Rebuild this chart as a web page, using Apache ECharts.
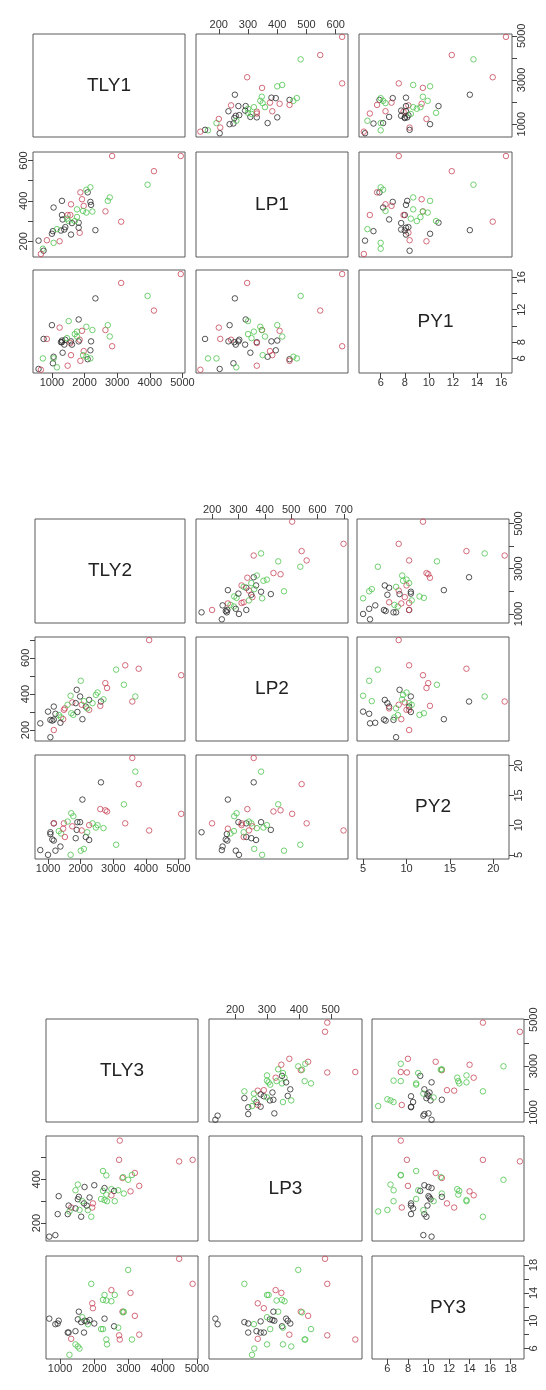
<!DOCTYPE html>
<html lang="en">
<head>
    <meta charset="UTF-8">
    <title>pairs TLY LP PY</title>
    <script src="https://cdn.jsdelivr.net/npm/echarts@6.0.0/dist/echarts.min.js"></script>
</head>
<style>
    *{
        margin: 0;
        padding: 0;
    }
    html , body{
        width: 100%;
        height: 100%;
        overflow: hidden;
        background: #fff;
    }
    .container{
        width: 546px;
        height: 1390px;
    }
</style>
<body>
<div class="container"></div>
<script>
    // variables of each matrix
    let names1=['TLY1','LP1','PY1'];
    let names2=['TLY2','LP2','PY2'];
    let names3=['TLY3','LP3','PY3'];

    // points: [TLY, LP, PY, group]  group 0 black / 1 red / 2 green
    let points1=[
        [4950,622,16.4,1],[2846,622,7.5,1],[4128,547,11.9,1],[3933,480,13.7,2],[3123,297,15.3,1],
        [2641,348,9.5,1],[2713,400,10.1,2],[2774,417,8.7,2],[2333,255,13.4,0],[2241,347,9.5,2],
        [2056,342,9.9,2],[2179,395,7.0,0],[2097,442,5.9,0],[2179,467,6.0,2],[2056,455,6.2,2],
        [1872,442,5.7,1],[1923,408,9.4,1],[1974,375,6.9,1],[1820,292,10.8,0],[1851,242,8.3,1],
        [1585,233,8.1,0],[1820,267,8.1,0],[1585,383,6.4,1],[1308,400,8.2,0],[1051,367,6.2,0],
        [1308,330,8.0,0],[1328,308,6.7,0],[1482,330,5.1,1],[1564,330,7.9,1],[1769,358,8.7,2],
        [1513,300,10.6,2],[1410,270,8.3,0],[1379,258,7.7,0],[1277,253,8.0,0],[1030,250,5.4,0],
        [1000,237,10.1,0],[1051,192,6.0,2],[1154,260,4.9,2],[1236,200,9.8,1],[846,205,8.4,1],
        [590,203,4.7,0],[723,163,6.0,2],[744,153,8.4,0],[662,137,4.6,1],[1954,350,6.4,2],
        [2200,380,8.1,0],[1615,290,7.7,0],[1769,320,9.3,2],[1462,312,8.5,2],[1700,300,9.0,2]
    ];
    let points2=[
        [4101,699,9.1,1],[3367,559,10.3,1],[3780,540,16.9,1],[3088,535,6.7,2],[3326,451,13.5,2],
        [5083,504,11.9,1],[3584,358,21.3,1],[3677,386,19.0,2],[2757,460,12.5,1],[2809,433,12.3,1],
        [2003,473,5.7,2],[1879,423,9.2,0],[1982,386,10.5,0],[2261,367,7.5,0],[2519,408,10.0,2],
        [2468,395,9.6,2],[2364,349,10.3,2],[2623,358,17.2,0],[2602,334,12.7,1],[1692,390,5.0,2],
        [1744,353,9.8,1],[1713,293,12.0,2],[1775,284,11.5,2],[2054,260,14.3,0],[2158,330,8.0,0],
        [1176,330,10.3,0],[1000,302,5.0,0],[1072,256,8.5,0],[1130,252,7.6,0],[1176,258,7.4,0],
        [762,237,5.8,0],[1176,200,10.3,1],[1072,160,8.8,0],[1330,283,9.0,2],[1400,270,8.6,2],
        [1465,260,9.4,1],[1848,349,7.8,0],[2261,312,10.0,1],[1486,312,10.3,1],[1227,290,5.7,0],
        [1517,320,8.0,1],[2034,340,9.1,1],[1900,300,10.5,0],[1380,240,6.4,0],[2100,360,6.0,2],
        [1600,340,10.6,2],[2700,370,9.5,2],[2200,320,8.8,2]
    ];
    let points3=[
        [2745,577,7.3,1],[2725,489,7.9,1],[4480,482,18.9,1],[4873,489,15.3,1],[3186,429,10.7,1],
        [3314,370,8.0,1],[2255,438,8.8,2],[2353,418,7.3,2],[2824,406,11.3,1],[2990,398,17.3,2],
        [2255,347,13.0,2],[2500,355,12.8,2],[2863,335,11.3,2],[3059,345,14.0,1],[2578,347,9.2,0],
        [2300,305,13.7,2],[2373,300,6.6,2],[2200,310,8.8,2],[2500,327,14.4,1],[2000,373,9.6,0],
        [1716,365,10.0,0],[1520,376,6.3,2],[1451,350,6.6,2],[1520,309,10.2,0],[1549,320,11.3,0],
        [961,323,10.0,0],[931,241,9.6,0],[1225,241,8.3,0],[1324,271,7.4,1],[1451,267,8.5,0],
        [1618,229,9.8,0],[1912,229,15.3,2],[1941,271,12.5,1],[1814,259,9.5,2],[686,138,10.3,0],
        [863,145,9.5,0],[1863,317,10.1,0],[1961,290,11.8,1],[2598,300,13.7,2],[2353,330,12.9,2],
        [1275,253,5.1,2],[1569,260,6.0,2],[1700,290,8.3,0],[1780,280,9.9,0],[2843,410,11.2,2],
        [3100,420,7.3,2],[2700,350,9.0,2],[1650,300,10.5,2],[1250,280,8.3,0],[2300,360,10.3,0]
    ];

    // tick values per variable (TLY, LP, PY), and which are labelled on each side
    let ticks1=[[1000,2000,3000,4000,5000],[200,300,400,500,600],[6,8,10,12,14,16]];
    let ticks2=[[1000,2000,3000,4000,5000],[200,300,400,500,600,700],[5,10,15,20]];
    let ticks3=[[1000,2000,3000,4000,5000],[200,300,400,500],[6,8,10,12,14,16,18]];
    let sideLabels1=[[1000,3000,5000],[200,400,600],[6,8,12,16]];
    let sideLabels2=[[1000,3000,5000],[200,400,600],[5,10,15,20]];
    let sideLabels3=[[1000,3000,5000],[200,400],[6,10,14,18]];

    let colors=['#2a2a2a','#c8475a','#4fc44f'];

    // layout of the three matrices (pixels)
    let plots=[
        {names:names1,points:points1,ticks:ticks1,side:sideLabels1,
            range:[[420,5080],[122,642],[4.2,16.9]],
            cols:[[33,185],[196,348],[359,512]],rows:[[34,137],[152,257],[270,373]]},
        {names:names2,points:points2,ticks:ticks2,side:sideLabels2,
            range:[[600,5200],[139,716],[4.3,21.8]],
            cols:[[35,185],[196,348],[357,509]],rows:[[519,623],[637,741],[755,859]]},
        {names:names3,points:points3,ticks:ticks3,side:sideLabels3,
            range:[[590,5030],[118,598],[4.5,19.3]],
            cols:[[46,198],[209,362],[372,524]],rows:[[1019,1122],[1136,1241],[1256,1359]]}
    ];

    let font='"Liberation Sans Narrow","Liberation Sans",Arial,sans-serif';
    let plain=v=>String(v);
    let grid=[],xAxis=[],yAxis=[],series=[],graphic=[];

    plots.forEach(p=>{
        for(let r=0;r<3;r++){
            for(let c=0;c<3;c++){
                let gi=grid.length;
                let x0=p.cols[c][0],x1=p.cols[c][1],y0=p.rows[r][0],y1=p.rows[r][1];
                grid.push({left:x0,top:y0,width:x1-x0,height:y1-y0,show:true,
                    borderColor:'#5a5a5a',borderWidth:1,backgroundColor:'transparent'});

                let showTop=(c==1 && r==0);
                let showBottom=(c!=1 && r==2);
                let showX=showTop||showBottom;
                xAxis.push({
                    gridIndex:gi,type:'value',min:p.range[c][0],max:p.range[c][1],
                    position:showTop?'top':'bottom',
                    axisLine:{show:false},splitLine:{show:false},
                    axisTick:{show:showX,length:5,customValues:p.ticks[c],lineStyle:{color:'#444'}},
                    axisLabel:{show:showX,customValues:p.ticks[c],margin:4,fontSize:11,formatter:plain,
                        color:'#333',fontFamily:font,hideOverlap:false}
                });

                let showLeft=(r==1 && c==0);
                let showRight=(r!=1 && c==2);
                let showY=showLeft||showRight;
                yAxis.push({
                    gridIndex:gi,type:'value',min:p.range[r][0],max:p.range[r][1],
                    position:showLeft?'left':'right',
                    axisLine:{show:false},splitLine:{show:false},
                    axisTick:{show:showY,length:5,customValues:p.ticks[r],lineStyle:{color:'#444'}},
                    axisLabel:{show:showY,customValues:p.side[r],margin:4,fontSize:11,rotate:90,formatter:plain,
                        color:'#333',fontFamily:font,hideOverlap:false}
                });

                if(r==c){
                    graphic.push({type:'text',x:(x0+x1)/2,y:(y0+y1)/2,silent:true,
                        style:{text:p.names[r],font:'19px "Liberation Sans",Arial,sans-serif',fill:'#222',
                            textAlign:'center',textVerticalAlign:'middle',align:'center',verticalAlign:'middle'}});
                }else{
                    series.push({
                        type:'scatter',xAxisIndex:gi,yAxisIndex:gi,
                        symbol:'circle',symbolSize:5.5,silent:true,
                        itemStyle:{color:'rgba(0,0,0,0)',borderWidth:1},
                        data:p.points.map(pt=>({value:[pt[c],pt[r]],itemStyle:{borderColor:colors[pt[3]]}}))
                    });
                }
            }
        }
    });

    let mycharts=echarts.init(document.querySelector('.container'));
    mycharts.setOption({animation:false,grid,xAxis,yAxis,series,graphic});
</script>
</body>
</html>
